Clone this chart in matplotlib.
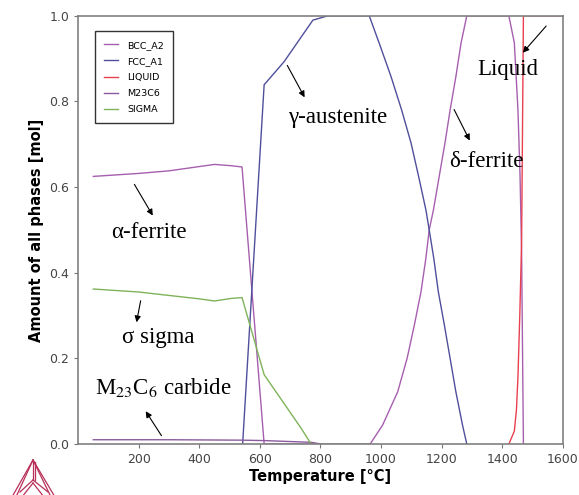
import matplotlib
matplotlib.use("Agg")
import matplotlib.pyplot as plt
from matplotlib.lines import Line2D

plt.rcParams["mathtext.fontset"] = "stix"

# ---- data ----
bcc_T = [50, 200, 300, 450, 505, 541, 614, 964, 1005, 1055, 1086, 1110, 1132, 1148,
         1159, 1173, 1192, 1211, 1228, 1247, 1264, 1283,
         1422, 1440, 1452, 1459, 1464, 1470]
bcc_y = [0.625, 0.632, 0.638, 0.653, 0.650, 0.647, 0.0, 0.0, 0.044, 0.122, 0.200,
         0.278, 0.356, 0.434, 0.50, 0.547, 0.625, 0.703, 0.780, 0.858, 0.936, 1.0,
         1.0, 0.937, 0.78, 0.624, 0.45, 0.0]

fcc_T = [543, 614, 680, 775, 824, 961, 994, 1033, 1068, 1099, 1124, 1148, 1159,
         1174, 1189, 1209, 1228, 1247, 1269, 1283]
fcc_y = [0.0, 0.839, 0.893, 0.99, 1.0, 1.0, 0.936, 0.858, 0.780, 0.703, 0.625, 0.547,
         0.50, 0.434, 0.356, 0.278, 0.200, 0.122, 0.044, 0.0]

liq_T = [1422, 1440, 1447, 1452, 1458, 1464, 1470, 1600]
liq_y = [0.0, 0.03, 0.08, 0.157, 0.30, 0.47, 1.0, 1.0]

m23_T = [50, 300, 541, 614, 769, 802]
m23_y = [0.010, 0.010, 0.009, 0.008, 0.004, 0.0]

sig_T = [50, 200, 400, 450, 505, 541, 614, 736, 769]
sig_y = [0.362, 0.355, 0.339, 0.334, 0.340, 0.342, 0.162, 0.037, 0.0]

phase_names = ["BCC_A2", "FCC_A1", "LIQUID", "M23C6", "SIGMA"]
phase_colors = ["#a65fae", "#4f4f9c", "#e8404f", "#8c5a9e", "#7fb35a"]

x_ticks = [200, 400, 600, 800, 1000, 1200, 1400, 1600]
y_ticks = [0.0, 0.2, 0.4, 0.6, 0.8, 1.0]

# annotations: (text, text position, arrow start, arrow end)
notes = [
    ("α-ferrite", (234, 0.493), (181, 0.612), (251, 0.528)),
    ("σ sigma", (264, 0.248), (208, 0.341), (191, 0.278)),
    ("M$_{23}$C$_{6}$ carbide", (280, 0.131), (280, 0.014), (218, 0.082)),
    ("γ-austenite", (858, 0.762), (686, 0.890), (752, 0.804)),
    ("δ-ferrite", (1346, 0.659), (1237, 0.787), (1297, 0.703)),
    ("Liquid", (1419, 0.874), (1551, 0.981), (1462, 0.909)),
]

fig = plt.figure(figsize=(5.79, 4.95), dpi=100)
ax = fig.add_axes([0.135, 0.103, 0.837, 0.865])

series = [(bcc_T, bcc_y), (fcc_T, fcc_y), (liq_T, liq_y), (m23_T, m23_y), (sig_T, sig_y)]
for (T, y), name, col in zip(series, phase_names, phase_colors):
    ax.plot(T, y, color=col, lw=1.0, label=name)

ax.set_xlim(0, 1600)
ax.set_ylim(0, 1.0)
ax.set_xticks(x_ticks)
ax.set_yticks(y_ticks)
ax.set_yticklabels([f"{v:.1f}" for v in y_ticks])
ax.tick_params(direction="out", length=3, colors="#777777", labelcolor="#444444",
               labelsize=9)
for s in ax.spines.values():
    s.set_color("#808080")
    s.set_linewidth(1.2)

ax.set_xlabel("Temperature [°C]", fontsize=10.5, fontweight="bold", labelpad=2)
ax.set_ylabel("Amount of all phases [mol]", fontsize=10.5, fontweight="bold", labelpad=4)

leg = ax.legend(loc="upper left", bbox_to_anchor=(0.025, 0.975), fontsize=6.8,
                handlelength=1.4, handletextpad=1.0, labelspacing=0.75,
                borderpad=1.0, fancybox=False, framealpha=1)
leg.get_frame().set_edgecolor("#333333")
leg.get_frame().set_linewidth(1.0)

for txt, tpos, a0, a1 in notes:
    ax.text(tpos[0], tpos[1], txt, fontsize=16.5, family="Liberation Serif",
            ha="center", va="center")
    ax.annotate("", xy=a1, xytext=a0,
                arrowprops=dict(arrowstyle="-|>", color="black", lw=0.8,
                                mutation_scale=9))

# small tetrahedron logo in the lower left corner (figure pixels)
W, H = 579.0, 495.0
logo = [
    [(33, 460), (12, 497)], [(33, 460), (55, 497)],
    [(33, 460), (16, 497)], [(33, 460), (51, 497)],
    [(33, 460), (33, 480)], [(35, 462), (35, 480)],
    [(33, 480), (20, 492)], [(33, 480), (48, 492)],
    [(33, 483), (22, 497)], [(33, 483), (44, 497)],
]
for seg in logo:
    xs = [p[0] / W for p in seg]
    ys = [1 - p[1] / H for p in seg]
    fig.add_artist(Line2D(xs, ys, color="#b8305a", lw=0.9))

fig.savefig("out.png", dpi=100)
